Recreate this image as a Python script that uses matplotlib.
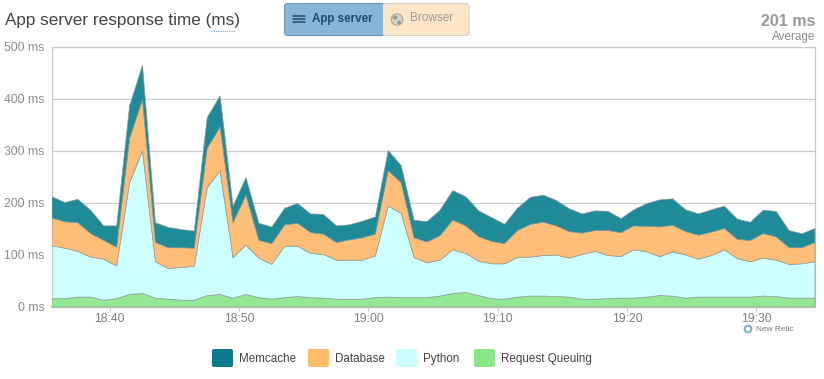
import numpy as np
import matplotlib
matplotlib.use('Agg')
import matplotlib.pyplot as plt
from matplotlib.patches import FancyBboxPatch, Rectangle, Circle, Ellipse

W, H = 824, 379

# minutes after 18:00, one sample per minute
minutes = [35.5 + i for i in range(60)]

queue = [16, 16, 19, 19, 13, 16, 24, 26, 17, 15, 13, 13, 22, 24, 17, 24, 18, 15, 18, 20,
         18, 17, 15, 15, 15, 18, 19, 18, 18, 18, 21, 26, 28, 22, 16, 15, 19, 21, 21,
         20, 19, 15, 15, 16, 17, 17, 19, 22, 21, 17, 19, 19, 19, 19, 19, 21, 20, 17, 17, 17]
python = [102, 97, 88, 77, 79, 63, 215, 274, 70, 59, 63, 65, 207, 238, 78, 95, 76, 67, 99, 97,
          85, 84, 75, 75, 75, 80, 175, 162, 77, 67, 69, 84, 75, 66, 67, 68, 76, 75, 78,
          80, 75, 86, 92, 83, 80, 93, 87, 75, 85, 83, 73, 80, 91, 74, 68, 73, 70, 65, 66, 70]
database = [53, 51, 55, 45, 36, 36, 85, 99, 37, 40, 38, 35, 76, 84, 67, 96, 34, 40, 41, 44,
            40, 39, 34, 39, 43, 42, 68, 59, 38, 40, 47, 57, 53, 47, 43, 39, 52, 63, 64,
            56, 51, 41, 40, 48, 46, 46, 49, 57, 51, 45, 46, 45, 41, 37, 41, 47, 45, 32, 31, 37]
memcache = [41, 37, 45, 45, 28, 41, 63, 66, 38, 39, 35, 33, 59, 60, 32, 34, 33, 32, 32, 38,
            36, 38, 32, 29, 32, 33, 39, 33, 34, 39, 49, 57, 56, 50, 46, 37, 43, 52, 52,
            49, 44, 37, 38, 37, 27, 31, 44, 52, 51, 42, 41, 43, 43, 39, 35, 45, 49, 33, 27, 27]

y_ticks = [0, 100, 200, 300, 400, 500]
x_ticks = [40, 50, 60, 70, 80, 90]
x_labels = ['18:40', '18:50', '19:00', '19:10', '19:20', '19:30']
legend_names = ['Memcache', 'Database', 'Python', 'Request Queuing']

plt.rcParams['font.family'] = ['Liberation Sans', 'DejaVu Sans']

fig = plt.figure(figsize=(W / 100, H / 100), dpi=100)
ax = fig.add_axes([51.5 / W, 1 - 306.5 / H, 763 / W, 260 / H])

# stacked areas, bottom series first
ax.stackplot(minutes, queue, python, database, memcache,
             colors=['#8de88d', '#ccffff', '#ffbb70', '#138593'],
             alpha=0.95, edgecolor='#8f9a96', linewidth=0.5, zorder=3)

ax.set_xlim(35.5, 94.5)
ax.set_ylim(0, 500)
ax.set_yticks(y_ticks)
ax.set_yticklabels([f'{v} ms' for v in y_ticks], fontsize=8.8, color='#8c8c8c')
ax.set_xticks(x_ticks)
ax.set_xticklabels(x_labels, fontsize=8.8, color='#808080')
ax.tick_params(axis='y', length=0, pad=5)
ax.tick_params(axis='x', length=3, width=0.8, color='#c8c8c8', pad=1.5)
ax.grid(axis='y', color='#cdcdcd', linewidth=0.9, zorder=1)
ax.set_axisbelow(True)
for side in ['left', 'right', 'top']:
    ax.spines[side].set_color('#c8c8c8')
    ax.spines[side].set_linewidth(0.9)
ax.spines['bottom'].set_color('#cccccc')
ax.spines['bottom'].set_linewidth(1.5)

# overlay in pixel coordinates for the header, buttons and legend
ov = fig.add_axes([0, 0, 1, 1], zorder=5)
ov.set_xlim(0, W)
ov.set_ylim(H, 0)
ov.axis('off')
ov.patch.set_alpha(0)

ov.text(5, 21, 'App server response time (ms)', fontsize=12.3, color='#444444', va='center')
ov.plot([211, 235], [31, 31], color='#7aa7c8', lw=0.8, ls=(0, (1, 1)))

# toggle buttons
btn_right = FancyBboxPatch((370, 3.5), 99, 32, boxstyle='round,pad=0,rounding_size=3',
                           fc='#fde6c8', ec='#d9d2c4', lw=0.8)
btn_left = FancyBboxPatch((284.5, 3.5), 100, 32, boxstyle='round,pad=0,rounding_size=3',
                          fc='#88b4d8', ec='#6f97b8', lw=0.8)
ov.add_patch(btn_right)
ov.add_patch(btn_left)
ov.add_patch(Rectangle((383, 3.9), 10, 31.2, fc='#fde6c8', ec='none'))
for yy in [15.5, 18.5, 21.5]:
    ov.plot([293, 305], [yy, yy], color='#1f4a68', lw=1.1, solid_capstyle='round')
ov.text(312, 19, 'App server', fontsize=8.4, fontweight='bold', color='#1f4a68', va='center')

# little globe on the browser button
ov.add_patch(Circle((397, 19.5), 5.8, fc='#d4d2c4', ec='#a4a498', lw=0.7))
ov.add_patch(Ellipse((395, 17.5), 5, 4, fc='#97a08e', ec='none'))
ov.add_patch(Ellipse((399, 22.5), 4, 4, fc='#97a08e', ec='none'))
ov.text(410.5, 18, 'Browser', fontsize=8.5, color='#9c9c94', va='center')

ov.text(815, 21, '201 ms', fontsize=11.5, fontweight='bold', color='#9a9a9a', va='center', ha='right')
ov.text(815, 37, 'Average', fontsize=8.5, color='#8c8c8c', va='center', ha='right')

# New Relic mark
ov.add_patch(Circle((748, 329), 3.4, fc='#ffffff', ec='#7fb3bb', lw=1.5))
ov.text(756, 329.5, 'New Relic', fontsize=6, color='#777777', va='center')

# legend
swatches = [(212, '#0a7a8c'), (308, '#ffbb6a'), (396, '#ccffff'), (474, '#88e888')]
for (sx, col), name in zip(swatches, legend_names):
    ov.add_patch(FancyBboxPatch((sx, 349), 21, 18, boxstyle='round,pad=0,rounding_size=2',
                                fc=col, ec='none'))
    ov.text(sx + 27.5, 359, name, fontsize=8.4, color='#444444', va='center')

fig.savefig('out.png', dpi=100)
